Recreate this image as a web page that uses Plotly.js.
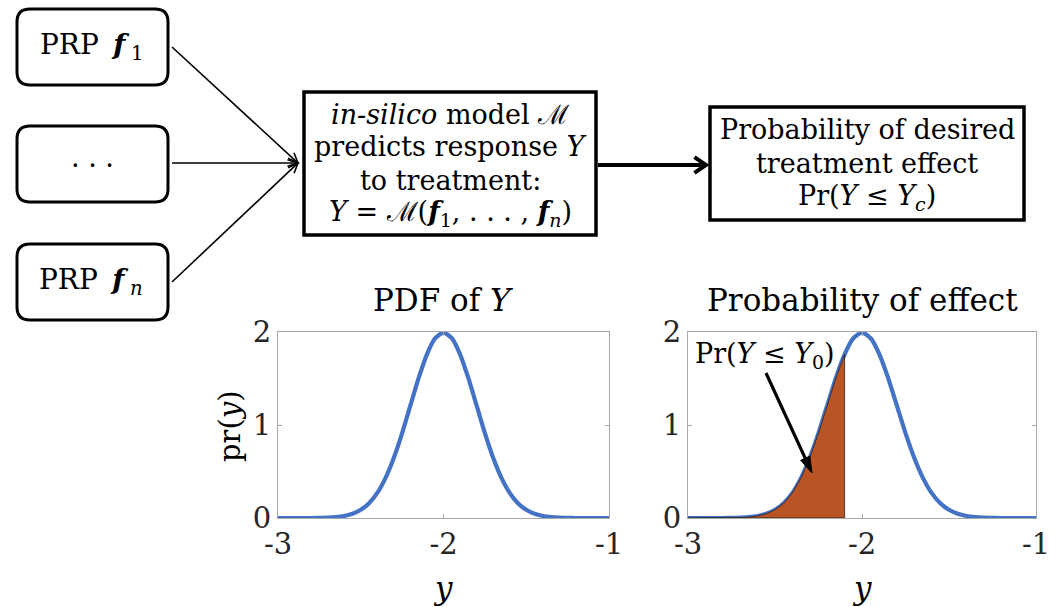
<!DOCTYPE html>
<html>
<head>
<meta charset="utf-8">
<script src="https://cdn.plot.ly/plotly-3.0.1.min.js"></script>
<style>html,body{margin:0;padding:0;background:#fff;}</style>
</head>
<body>
<div id="chart" style="width:1060px;height:607px;"></div>
<script>
// ---- data ----
const yGrid = [-3.0,-2.95,-2.9,-2.85,-2.8,-2.75,-2.7,-2.65,-2.6,-2.55,-2.5,-2.45,-2.4,-2.35,-2.3,-2.25,-2.2,-2.15,-2.1,-2.05,-2.0,
               -1.95,-1.9,-1.85,-1.8,-1.75,-1.7,-1.65,-1.6,-1.55,-1.5,-1.45,-1.4,-1.35,-1.3,-1.25,-1.2,-1.15,-1.1,-1.05,-1.0];
const pdfVals = [0,0,0,0,0,0.001,0.004,0.010,0.022,0.045,0.088,0.159,0.270,0.432,0.648,0.913,1.210,1.506,1.760,1.933,1.995,
                 1.933,1.760,1.506,1.210,0.913,0.648,0.432,0.270,0.159,0.088,0.045,0.022,0.010,0.004,0.001,0,0,0,0,0];
const Y0 = -2.1;                 // threshold of shaded area
const xTicks = [-3, -2, -1];
const yTicks = [0, 1, 2];

// shaded area: points of the curve up to Y0
const fillX = [], fillY = [];
for (let i = 0; i < yGrid.length; i++) {
  if (yGrid[i] <= Y0 + 1e-9) { fillX.push(yGrid[i]); fillY.push(pdfVals[i]); }
}
fillX.push(Y0); fillY.push(0);
fillX.push(yGrid[0]); fillY.push(0);

// ---- layout helpers (pixel -> paper) ----
const W = 1060, H = 607;
const px = x => x / W, py = y => 1 - y / H;
const P = (x, y) => px(x).toFixed(5) + ',' + py(y).toFixed(5);
function roundRect(L, T, R, B, r) {
  return 'M' + P(L + r, T) + ' L' + P(R - r, T) + ' Q' + P(R, T) + ' ' + P(R, T + r) +
         ' L' + P(R, B - r) + ' Q' + P(R, B) + ' ' + P(R - r, B) +
         ' L' + P(L + r, B) + ' Q' + P(L, B) + ' ' + P(L, B - r) +
         ' L' + P(L, T + r) + ' Q' + P(L, T) + ' ' + P(L + r, T) + ' Z';
}
// arrow made of a line shape and a head path (pixel coordinates -> paper)
function arrowShapes(x0, y0, x1, y1, w, headLen, headAng, filled) {
  const a = Math.atan2(y1 - y0, x1 - x0);
  const h1x = x1 - headLen * Math.cos(a - headAng), h1y = y1 - headLen * Math.sin(a - headAng);
  const h2x = x1 - headLen * Math.cos(a + headAng), h2y = y1 - headLen * Math.sin(a + headAng);
  const back = filled ? headLen * 0.8 : w * 0.4;
  const ex = x1 - back * Math.cos(a), ey = y1 - back * Math.sin(a);
  const out = [{type: 'line', xref: 'paper', yref: 'paper', x0: px(x0), y0: py(y0), x1: px(ex), y1: py(ey),
                line: {color: '#000', width: w}}];
  if (filled) {
    out.push({type: 'path', xref: 'paper', yref: 'paper', path: 'M' + P(h1x, h1y) + ' L' + P(x1, y1) + ' L' + P(h2x, h2y) + ' Z',
              fillcolor: '#000', line: {color: '#000', width: 1}});
  } else {
    out.push({type: 'path', xref: 'paper', yref: 'paper', path: 'M' + P(h1x, h1y) + ' L' + P(x1, y1) + ' L' + P(h2x, h2y),
              line: {color: '#000', width: w}});
  }
  return out;
}

const FONT = 'DejaVu Serif, Liberation Serif, serif';
const blue = '#4472C4';

const traces = [
  {x: yGrid, y: pdfVals, xaxis: 'x', yaxis: 'y', mode: 'lines',
   line: {color: blue, width: 4.2, shape: 'spline', smoothing: 0.6}, hoverinfo: 'skip'},
  {x: yGrid, y: pdfVals, xaxis: 'x2', yaxis: 'y2', mode: 'lines',
   line: {color: blue, width: 4.2, shape: 'spline', smoothing: 0.6}, hoverinfo: 'skip'},
  {x: fillX, y: fillY, xaxis: 'x2', yaxis: 'y2', mode: 'lines', fill: 'toself',
   fillcolor: '#BA5424', line: {color: '#222', width: 0.8}, hoverinfo: 'skip'}
];

const axisCommon = {
  range: [-3, -1], tickvals: xTicks, ticktext: xTicks.map(String),
  showgrid: false, zeroline: false, showline: true, mirror: 'ticks',
  linecolor: '#a8a8a8', linewidth: 1, ticks: 'inside', ticklen: 4, tickcolor: '#a8a8a8',
  tickfont: {family: FONT, size: 29, color: '#262626'}, fixedrange: true
};
const yaxisCommon = Object.assign({}, axisCommon, {range: [0, 2], tickvals: yTicks, ticktext: yTicks.map(String)});

let shapes = [
  {type: 'path', xref: 'paper', yref: 'paper', path: roundRect(17, 9, 168, 85, 13), line: {color: '#000', width: 3}},
  {type: 'path', xref: 'paper', yref: 'paper', path: roundRect(17, 126, 168, 202, 13), line: {color: '#000', width: 3}},
  {type: 'path', xref: 'paper', yref: 'paper', path: roundRect(17, 244, 168, 320, 13), line: {color: '#000', width: 3}},
  {type: 'rect', xref: 'paper', yref: 'paper', x0: px(304), x1: px(596), y0: py(92), y1: py(235), line: {color: '#000', width: 3.5}},
  {type: 'rect', xref: 'paper', yref: 'paper', x0: px(710), x1: px(1024), y0: py(107), y1: py(220), line: {color: '#000', width: 3.5}}
];
shapes = shapes
  .concat(arrowShapes(172, 47, 298, 163, 1.6, 11, 0.45, false))
  .concat(arrowShapes(172, 163, 298, 163, 1.6, 11, 0.45, false))
  .concat(arrowShapes(172, 282, 298, 163, 1.6, 11, 0.45, false))
  .concat(arrowShapes(598, 165, 706, 165, 4, 14, 0.6, false))
  .concat(arrowShapes(766, 373, 812, 473, 3.2, 17, 0.3, true));

function txt(x, y, text, size, extra) {
  return Object.assign({xref: 'paper', yref: 'paper', x: px(x), y: py(y), text: text, showarrow: false,
    xanchor: 'center', yanchor: 'middle', font: {family: FONT, size: size, color: '#000'}}, extra || {});
}
const bf = '<b><i>f</i></b>';
const M = 'ℳ';
const annotations = [
  txt(91, 46, 'PRP&#8201; ' + bf + '&#8201;<sub>1</sub>', 28),
  txt(92, 157, '. . .', 27),
  txt(91, 281, 'PRP&#8201; ' + bf + '&#8201;<sub><i>n</i></sub>', 28),
  txt(450, 114, '<i>in-silico</i> model ' + M, 27),
  txt(450, 147, 'predicts response <i>Y</i>', 27),
  txt(450, 180, 'to treatment:', 27),
  txt(450, 213, '<i>Y</i> = ' + M + '(' + bf + '<sub>1</sub>, . . . , ' + bf + '<sub><i>n</i></sub>)', 27),
  txt(867, 129, 'Probability of desired', 27),
  txt(867, 163, 'treatment effect', 27),
  txt(867, 197, 'Pr(<i>Y</i> ≤ <i>Y<sub>c</sub></i>)', 27),
  txt(443, 300, 'PDF of <i>Y</i>', 31),
  txt(862, 300, 'Probability of effect', 31),
  txt(443, 588, '<i>y</i>', 31),
  txt(862, 588, '<i>y</i>', 31),
  txt(230, 427, 'pr(<i>y</i>)', 29, {textangle: -90}),
  txt(765, 355, 'Pr(<i>Y</i> ≤ <i>Y</i><sub>0</sub>)', 27)
];

const layout = {
  width: W, height: H, margin: {l: 0, r: 0, t: 0, b: 0},
  paper_bgcolor: '#fff', plot_bgcolor: '#fff', showlegend: false,
  xaxis: Object.assign({}, axisCommon, {domain: [px(278), px(609)], anchor: 'y'}),
  yaxis: Object.assign({}, yaxisCommon, {domain: [py(518), py(332)], anchor: 'x'}),
  xaxis2: Object.assign({}, axisCommon, {domain: [px(688), px(1036)], anchor: 'y2'}),
  yaxis2: Object.assign({}, yaxisCommon, {domain: [py(518), py(332)], anchor: 'x2'}),
  shapes: shapes, annotations: annotations
};
Plotly.newPlot('chart', traces, layout, {staticPlot: true, displayModeBar: false});
</script>
</body>
</html>
